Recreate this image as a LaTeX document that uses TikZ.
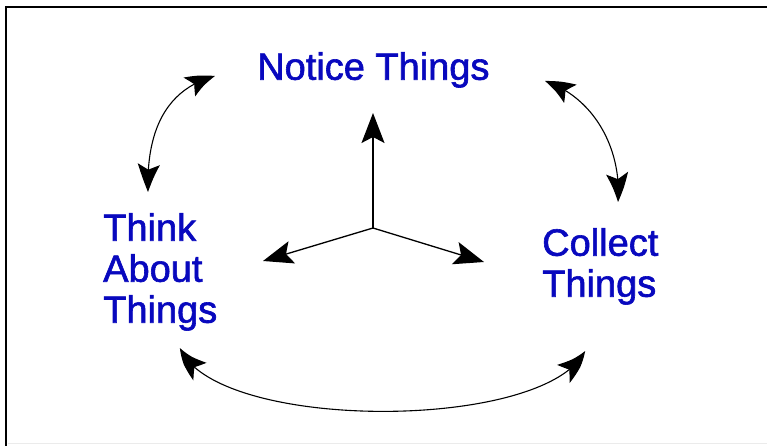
\documentclass[tikz,border=0pt]{standalone}
\usepackage{fontspec}
\setmainfont{Liberation Sans}
\newfontfamily\lblfont[FakeBold=1.6]{Liberation Sans}
\usetikzlibrary{arrows.meta,bending}
\definecolor{lblue}{RGB}{8,8,190}
\definecolor{framegray}{RGB}{235,235,235}
\tikzset{
  lbl/.style={font=\lblfont\fontsize{38}{41}\selectfont, text=lblue, inner sep=0pt, align=left, anchor=north west},
  bigtip/.style={-{Stealth[length=30pt,width=23pt,inset=6pt]}},
  dbltip/.style={{Stealth[length=29pt,width=22pt,inset=6pt,bend]}-{Stealth[length=29pt,width=22pt,inset=6pt,bend]}},
  spoke/.style={bigtip, line width=1.3pt},
  loop/.style={dbltip, line width=1.1pt}
}
\begin{document}
\begin{tikzpicture}[x=1pt,y=-1pt]
\useasboundingbox (0,0) rectangle (767,446);
\fill[white] (0,0) rectangle (767,446);
% frame
\draw[line width=2pt] (6,446) -- (6,7) -- (767,7);
\draw[framegray, line width=1pt] (8,443) -- (767,443);
% labels
\node[lbl] (notice) at (257,52) {Notice Things};
\node[lbl] (think) at (103,213) {Think\\About\\Things};
\node[lbl] (collect) at (542,228) {Collect\\Things};
% center spokes
\coordinate (c) at (373,228);
\coordinate (up) at (373,113);
\coordinate (lt) at (263,261);
\coordinate (rt) at (484,262);
\draw[spoke] (c) -- (up);
\draw[spoke] (c) -- (lt);
\draw[spoke] (c) -- (rt);
% loop arrows
\coordinate (tl1) at (148,192);
\coordinate (tl2) at (215,76);
\draw[loop] (tl1) .. controls (146,125) and (170,88) .. (tl2);
\coordinate (tr1) at (545,81);
\coordinate (tr2) at (618,202);
\draw[loop] (tr1) .. controls (595,98) and (622,150) .. (tr2);
\coordinate (b1) at (180,348);
\coordinate (b2) at (585,351);
\draw[loop] (b1) .. controls (215,432) and (545,432) .. (b2);
\end{tikzpicture}
\end{document}
